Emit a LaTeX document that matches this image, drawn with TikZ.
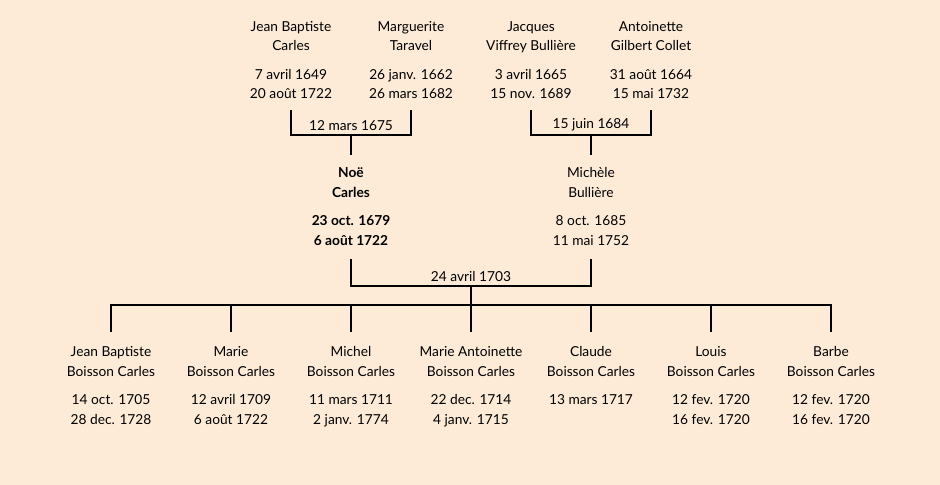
\documentclass[tikz,border=0pt]{standalone}
\usepackage{fontspec}
\setmainfont{Lato}
\definecolor{bgpeach}{RGB}{253,235,216}
\begin{document}
\begin{tikzpicture}
    [x=0.75pt, y=-0.75pt, line width=1.5pt,
    every node/.style={font=\fontsize{10.3}{15}\selectfont},
    person/.style={align=center, inner sep=0pt, minimum height=72pt},
    wed/.style={above, inner sep=2.5pt}]
    \fill[bgpeach] (0,0) rectangle (940,485);
    % grandparents
    \node[person] (jb) at (291,61) {\strut Jean Baptiste\\\strut Carles\\[6pt]\strut 7 avril 1649\\\strut 20 août 1722};
    \node[person] (mt) at (411,61) {\strut Marguerite\\\strut Taravel\\[6pt]\strut 26 janv. 1662\\\strut 26 mars 1682};
    \node[person] (jv) at (531,61) {\strut Jacques\\\strut Viffrey Bullière\\[6pt]\strut 3 avril 1665\\\strut 15 nov. 1689};
    \node[person] (ag) at (651,61) {\strut Antoinette\\\strut Gilbert Collet\\[6pt]\strut 31 août 1664\\\strut 15 mai 1732};
    % parents
    \node[person, minimum height=76.5pt, font=\fontsize{10.3}{15}\selectfont\bfseries] (noe) at (351,207) {\strut Noë\\\strut Carles\\[6pt]\strut 23 oct. 1679\\\strut 6 août 1722};
    \node[person, minimum height=76.5pt] (mb) at (591,207) {\strut Michèle\\\strut Bullière\\[6pt]\strut 8 oct. 1685\\\strut 11 mai 1752};
    % children
    \node[person, minimum height=79.5pt] (c1) at (111,386) {\strut Jean Baptiste\\\strut Boisson Carles\\[6pt]\strut 14 oct. 1705\\\strut 28 dec. 1728};
    \node[person, minimum height=79.5pt] (c2) at (231,386) {\strut Marie\\\strut Boisson Carles\\[6pt]\strut 12 avril 1709\\\strut 6 août 1722};
    \node[person, minimum height=79.5pt] (c3) at (351,386) {\strut Michel\\\strut Boisson Carles\\[6pt]\strut 11 mars 1711\\\strut 2 janv. 1774};
    \node[person, minimum height=79.5pt] (c4) at (471,386) {\strut Marie Antoinette\\\strut Boisson Carles\\[6pt]\strut 22 dec. 1714\\\strut 4 janv. 1715};
    \node[person, minimum height=79.5pt] (c5) at (591,386) {\strut Claude\\\strut Boisson Carles\\[6pt]\strut 13 mars 1717\\\strut};
    \node[person, minimum height=79.5pt] (c6) at (711,386) {\strut Louis\\\strut Boisson Carles\\[6pt]\strut 12 fev. 1720\\\strut 16 fev. 1720};
    \node[person, minimum height=79.5pt] (c7) at (831,386) {\strut Barbe\\\strut Boisson Carles\\[6pt]\strut 12 fev. 1720\\\strut 16 fev. 1720};
    % marriages
    \coordinate (w1) at (351,135);
    \coordinate (w2) at (591,135);
    \coordinate (w3) at (471,286);
    \coordinate (kids) at (471,305);
    \node[wed] (w1l) at (w1) {12 mars 1675};
    \node[wed] (w2l) at (w2) {15 juin 1684};
    \node[wed] (w3l) at (w3) {24 avril 1703};
    \draw[-] (jb.south) |- (w1) -| (mt.south);
    \draw[-] (w1) -- (noe.north);
    \draw[-] (jv.south) |- (w2) -| (ag.south);
    \draw[-] (w2) -- (mb.north);
    \draw[-] (noe.south) |- (w3) -| (mb.south);
    \draw[-] (w3) -- (kids);
    \draw[-] (c1.north) |- (kids) -| (c7.north);
    \draw[-] (c2.north) -- (c2.north |- kids);
    \draw[-] (c3.north) -- (c3.north |- kids);
    \draw[-] (c4.north) -- (kids);
    \draw[-] (c5.north) -- (c5.north |- kids);
    \draw[-] (c6.north) -- (c6.north |- kids);
\end{tikzpicture}
\end{document}
